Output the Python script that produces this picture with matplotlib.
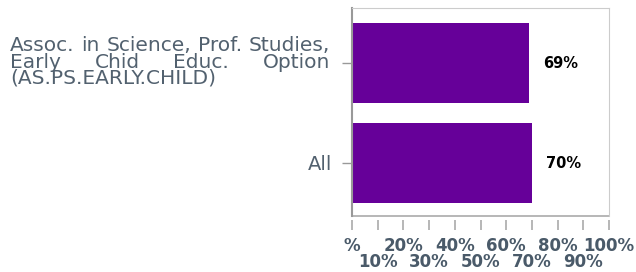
import matplotlib.pyplot as plt

category_lines = [
    ["Assoc.", "in", "Science,", "Prof.", "Studies,"],
    ["Early", "Chid", "Educ.", "Option"],
    ["(AS.PS.EARLY.CHILD)"],
]
categories = ["Assoc. in Science, Prof. Studies, Early Chid Educ. Option (AS.PS.EARLY.CHILD)", "All"]
values = [69, 70]
value_labels = ["69%", "70%"]
x_ticks = list(range(0, 101, 10))
x_tick_labels = ["%", "\n10%", "20%", "\n30%", "40%", "\n50%", "60%",
                 "\n70%", "80%", "\n90%", "100%"]

label_color = "#52616f"
tick_color = "#4a5a69"
bar_color = "#660099"
W, H = 636, 272

fig = plt.figure(figsize=(W / 100, H / 100), dpi=100)
ax = fig.add_axes([352 / W, 1 - 216 / H, 257 / W, 208 / H])

y = list(range(len(categories)))
ax.barh(y, values, height=0.8, color=bar_color)
for yi, v, lab in zip(y, values, value_labels):
    ax.annotate(lab, (v, yi), xytext=(10, 0), textcoords="offset points",
                va="center", ha="left", fontsize=10.5, fontweight="bold",
                color="black")

ax.spines["left"].set_color("#999999")
ax.spines["left"].set_linewidth(1.5)
ax.spines["top"].set_color("#cccccc")
ax.spines["right"].set_color("#cccccc")
ax.spines["bottom"].set_position(("outward", 3))
ax.spines["bottom"].set_visible(False)
ax.plot([0, 1], [0, 0], transform=ax.transAxes, color="#aaaaaa",
        lw=1.2, clip_on=False)

ax.set_xlim(0, 100)
ax.set_ylim(1.53, -0.55)
ax.set_yticks(y)
ax.set_yticklabels(["", categories[1]], fontsize=14, color=label_color)
ax.set_xticks(x_ticks)
ax.set_xticklabels(x_tick_labels, fontsize=12, fontweight="bold",
                   color=tick_color, linespacing=0.85)
ax.tick_params(axis="y", length=7, width=1, color="#999999", pad=7)
ax.tick_params(axis="x", length=7, width=1.2, color="#aaaaaa", pad=5)

# justified multi-line label for the first category
renderer = fig.canvas.get_renderer()
left, right = 10, 330
baselines = [51.0, 67.5, 84.0]
for words, base in zip(category_lines, baselines):
    texts = [fig.text(0, 1 - base / H, w, fontsize=14.5, color=label_color,
                      va="baseline", ha="left") for w in words]
    widths = [t.get_window_extent(renderer).width for t in texts]
    if len(words) > 1:
        gap = (right - left - sum(widths)) / (len(words) - 1)
    else:
        gap = 0
    x = left
    for t, wd in zip(texts, widths):
        t.set_x(x / W)
        x += wd + gap

fig.savefig("out.png", dpi=100)
